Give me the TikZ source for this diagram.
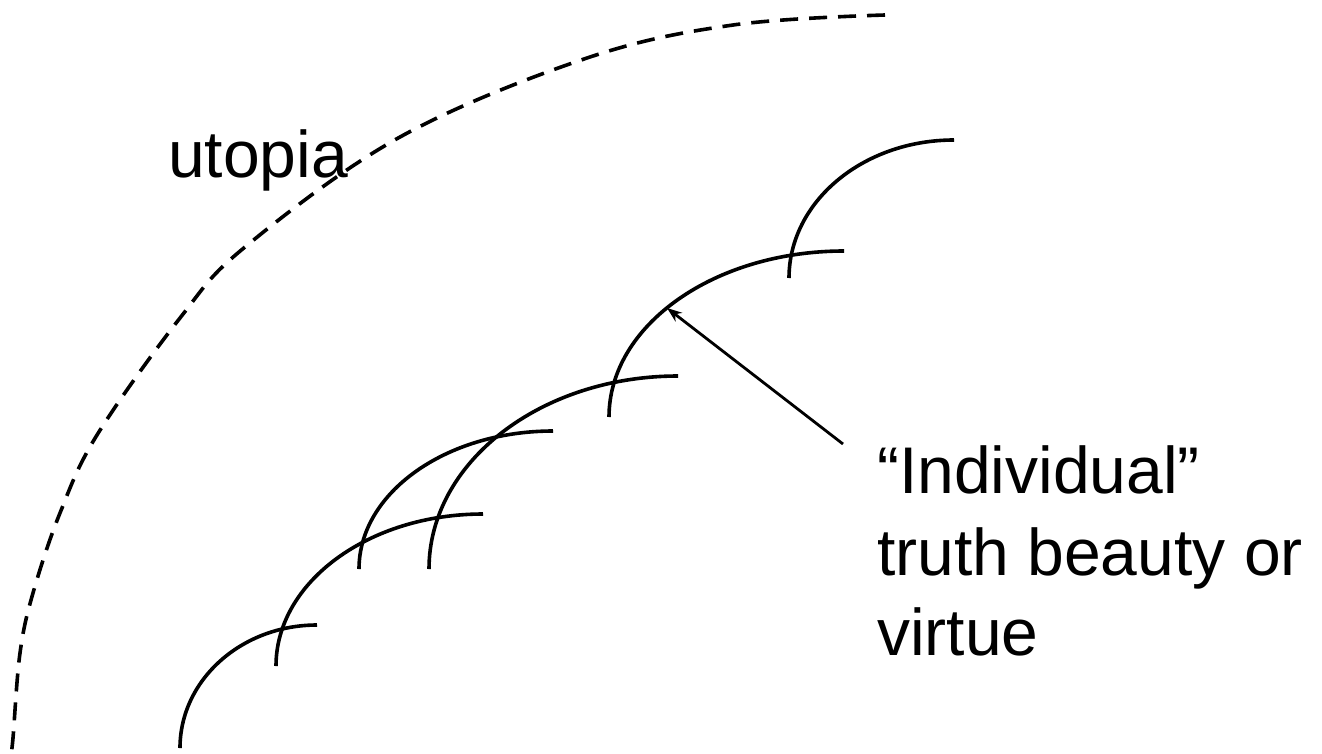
\documentclass[tikz,border=0pt]{standalone}
\usepackage{fontspec}
\setmainfont{Liberation Sans}
\usetikzlibrary{arrows.meta}
\begin{document}
\begin{tikzpicture}[x=1pt,y=-1pt,
  arcline/.style={line width=3.6pt},
  bound/.style={line width=3.6pt, dash pattern=on 18pt off 11pt},
  pointer/.style={line width=2.8pt,-{Stealth[length=15pt,width=11pt]}},
  txt/.style={inner sep=0pt, anchor=base west, font=\fontsize{66pt}{81pt}\selectfont}]
\useasboundingbox (0,0) rectangle (1322,753);
% dashed outer boundary
\draw[bound] plot[smooth, tension=0.6] coordinates {(885,15) (733,25) (587,58) (400,137) (245,247) (180,318) (97,435) (60,513) (33,593) (20,653) (13,738) (11,753)};
% solid arcs
\draw[arcline] (180,748) .. controls (180,680.1) and (241.3,625) .. (317,625);
\draw[arcline] (276,666) .. controls (276,582.1) and (368.7,514) .. (483,514);
\draw[arcline] (359,569) .. controls (359,492.8) and (445.9,431) .. (553,431);
\draw[arcline] (429,569) .. controls (429,462.4) and (540.5,376) .. (678,376);
\draw[arcline] (609,417) .. controls (609,325.3) and (714.2,251) .. (844,251);
\draw[arcline] (789,278) .. controls (789,201.8) and (862.9,140) .. (954,140);
% labels
\node[txt] (utopia) at (168,177) {utopia};
\node[txt] (l1) at (877,493) {“Individual”};
\node[txt] (l2) at (877,575) {truth beauty or};
\node[txt] (l3) at (877,655) {virtue};
% pointer
\coordinate (src) at (843,444);
\coordinate (tgt) at (667,308);
\draw[pointer] (src) -- (tgt);
\end{tikzpicture}
\end{document}
